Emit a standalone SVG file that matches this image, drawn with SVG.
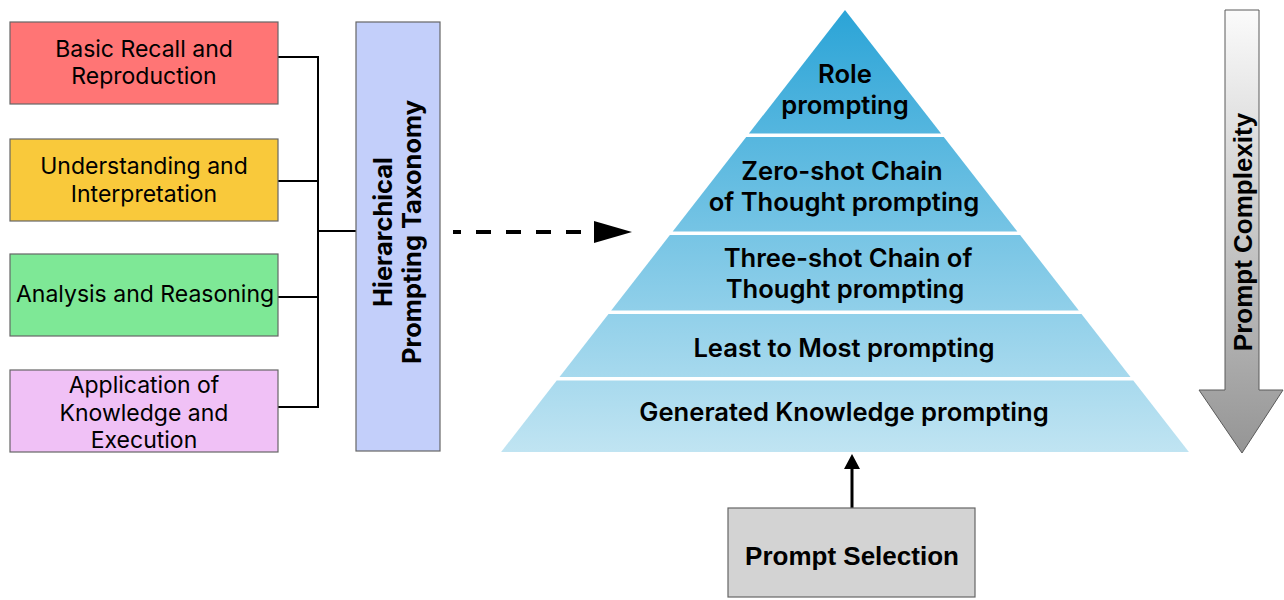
<svg xmlns="http://www.w3.org/2000/svg" width="1284" height="600" viewBox="0 0 1284 600">
<style>
.box{stroke:#666666;stroke-width:1.2}
.lt{font-family:Inter,"Noto Sans",sans-serif;font-size:23px;fill:#000;text-anchor:middle}
.pt{font-family:Inter,"Noto Sans",sans-serif;font-size:25.6px;font-weight:600;fill:#000;text-anchor:middle}
.bt{font-family:Inter,"Noto Sans",sans-serif;font-size:25.4px;font-weight:700;fill:#000;text-anchor:middle}
.ht{font-family:"Liberation Sans",Arial,sans-serif;font-size:26px;font-weight:700;fill:#000;text-anchor:middle}
.conn{stroke:#000;stroke-width:2;fill:none}
.layer{fill:url(#pyr)}
</style>
<defs>
<linearGradient id="pyr" gradientUnits="userSpaceOnUse" x1="0" y1="10" x2="0" y2="452">
<stop offset="0" stop-color="#2ba4d7"/>
<stop offset="1" stop-color="#c0e4f2"/>
</linearGradient>
<linearGradient id="gray" gradientUnits="userSpaceOnUse" x1="0" y1="10" x2="0" y2="453">
<stop offset="0" stop-color="#fbfbfb"/>
<stop offset="1" stop-color="#959595"/>
</linearGradient>
</defs>

<g id="connectors">
<path class="conn" d="M278,57 H318 V407 H278 M278,181 H318 M278,297 H318 M318,231 H357"/>
<line x1="453" y1="232" x2="596" y2="232" stroke="#000" stroke-width="4" stroke-dasharray="15 15" stroke-dashoffset="7"/>
<path d="M594,221 L632,232 L594,243 z" fill="#000"/>
<line x1="852" y1="508" x2="852" y2="466" stroke="#000" stroke-width="3"/>
<path d="M844,469 L852,454 L860,469 z" fill="#000"/>
</g>

<g id="n-basic">
<rect class="box" x="10" y="22" width="268" height="82" fill="#ff7575"/>
<text class="lt" x="144" y="57">Basic Recall and</text>
<text class="lt" x="144" y="84">Reproduction</text>
</g>
<g id="n-understanding">
<rect class="box" x="10" y="139" width="268" height="82" fill="#f9c93b"/>
<text class="lt" x="144" y="174">Understanding and</text>
<text class="lt" x="144" y="202">Interpretation</text>
</g>
<g id="n-analysis">
<rect class="box" x="10" y="254" width="268" height="82" fill="#7ee896"/>
<text class="lt" x="145" y="302">Analysis and Reasoning</text>
</g>
<g id="n-application">
<rect class="box" x="10" y="370" width="268" height="82" fill="#f0c1f6"/>
<text class="lt" x="144" y="393">Application of</text>
<text class="lt" x="144" y="421">Knowledge and</text>
<text class="lt" x="144" y="448">Execution</text>
</g>
<g id="n-taxonomy">
<rect class="box" x="356" y="22" width="84" height="429" fill="#c3cffa"/>
<text class="bt" transform="translate(392,232) rotate(-90)">Hierarchical</text>
<text class="bt" transform="translate(421,232) rotate(-90)">Prompting Taxonomy</text>
</g>

<g id="n-pyramid">
<polygon class="layer" points="845,10 941.1,133.5 748.9,133.5"/>
<polygon class="layer" points="746.2,137 943.8,137 1017.3,231.5 672.7,231.5"/>
<polygon class="layer" points="669.9,235 1020.1,235 1078.8,310.5 611.2,310.5"/>
<polygon class="layer" points="608.5,314 1081.5,314 1130.5,377 559.5,377"/>
<polygon class="layer" points="556.7,380.5 1133.3,380.5 1188.9,452 501.1,452"/>
<text class="pt" x="845" y="83">Role</text>
<text class="pt" x="845" y="114">prompting</text>
<text class="pt" x="842" y="180">Zero-shot Chain</text>
<text class="pt" x="844" y="211">of Thought prompting</text>
<text class="pt" x="848" y="267">Three-shot Chain of</text>
<text class="pt" x="845" y="298">Thought prompting</text>
<text class="pt" x="844" y="357">Least to Most prompting</text>
<text class="pt" x="844" y="421">Generated Knowledge prompting</text>
</g>

<g id="n-complexity">
<path d="M1225,10 H1259 V390 H1283 L1242,453 L1199,390 H1225 Z" fill="url(#gray)" stroke="#5a5a5a" stroke-width="1"/>
<text class="ht" transform="translate(1252,232) rotate(-90)">Prompt Complexity</text>
</g>

<g id="n-selection">
<rect class="box" x="728" y="508" width="247" height="89" fill="#d3d3d3"/>
<text class="ht" x="852" y="565">Prompt Selection</text>
</g>
</svg>
